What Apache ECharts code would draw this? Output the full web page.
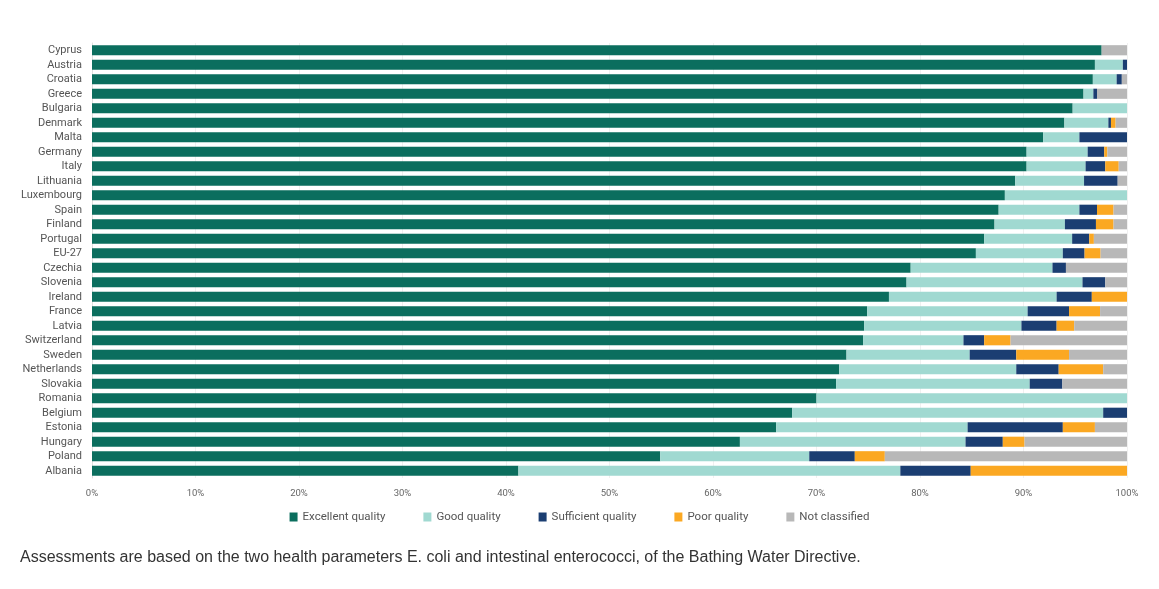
<!DOCTYPE html>
<html>
<head>
<meta charset="utf-8">
<script src="https://cdn.jsdelivr.net/npm/echarts@6/dist/echarts.min.js"></script>
<style>
html,body{margin:0;padding:0;background:#fff;}
#chart{width:1159px;height:589px;}
</style>
</head>
<body>
<div id="chart"></div>
<script>
const categories = ["Cyprus","Austria","Croatia","Greece","Bulgaria","Denmark","Malta","Germany","Italy","Lithuania","Luxembourg","Spain","Finland","Portugal","EU-27","Czechia","Slovenia","Ireland","France","Latvia","Switzerland","Sweden","Netherlands","Slovakia","Romania","Belgium","Estonia","Hungary","Poland","Albania"];
const excellent = [97.55,96.9,96.7,95.8,94.75,93.95,91.9,90.3,90.3,89.2,88.2,87.6,87.2,86.2,85.4,79.1,78.7,77.0,74.9,74.6,74.5,72.9,72.2,71.9,70.0,67.65,66.1,62.6,54.9,41.2];
const good = [0,2.7,2.3,0.95,5.25,4.25,3.5,5.9,5.7,6.65,11.8,7.8,6.8,8.5,8.4,13.7,17.0,16.2,15.5,15.2,9.7,11.9,17.1,18.7,30.0,30.05,18.5,21.8,14.4,36.9];
const sufficient = [0,0.4,0.5,0.35,0,0.25,4.6,1.6,1.9,3.25,0,1.7,3.0,1.65,2.1,1.3,2.2,3.4,4.0,3.4,2.0,4.5,4.1,3.15,0,2.3,9.2,3.6,4.4,6.8];
const poor = [0,0,0,0,0,0.45,0,0.3,1.3,0,0,1.6,1.7,0.45,1.55,0,0,3.4,3.0,1.7,2.55,5.1,4.3,0,0,0,3.1,2.1,2.9,15.1];
const notClassified = [2.45,0,0.5,2.9,0,1.1,0,1.9,0.8,0.9,0,1.3,1.3,3.2,2.55,5.9,2.1,0,2.6,5.1,11.25,5.6,2.3,6.25,0,0,3.1,9.9,23.4,0];
const seriesNames = ["Excellent quality","Good quality","Sufficient quality","Poor quality","Not classified"];
const colors = ["#0b6e5e","#a0d9d1","#1b3e72","#fba822","#b8b8b8"];
const caption = "Assessments are based on the two health parameters E. coli and intestinal enterococci, of the Bathing Water Directive.";

const chart = echarts.init(document.getElementById('chart'));
const dataSets = [excellent, good, sufficient, poor, notClassified];
chart.setOption({
  animation: false,
  color: colors,
  title: {
    text: caption,
    left: 15,
    top: 545,
    textStyle: {fontFamily: 'Liberation Sans, Arial, sans-serif', fontSize: 16, fontWeight: 'normal', color: '#333'}
  },
  legend: {
    data: seriesNames,
    left: 'center',
    top: 506,
    icon: 'rect',
    itemWidth: 8,
    itemHeight: 9,
    itemGap: 38,
    textStyle: {fontFamily: 'Roboto, sans-serif', fontSize: 11.5, color: '#555'}
  },
  grid: {left: 92, right: 32, top: 43, bottom: 111, containLabel: false},
  xAxis: {
    type: 'value',
    min: 0, max: 100, interval: 10,
    axisLabel: {formatter: '{value}%', fontFamily: 'Roboto, sans-serif', fontSize: 9.5, color: '#666', margin: 11},
    splitLine: {show: true, lineStyle: {color: '#f0f0f0', width: 1}},
    axisLine: {show: false},
    axisTick: {show: false}
  },
  yAxis: {
    type: 'category',
    inverse: true,
    data: categories,
    axisLabel: {fontFamily: 'Roboto, sans-serif', fontSize: 11, color: '#555', margin: 10},
    axisLine: {show: true, lineStyle: {color: '#e0e0e0'}},
    axisTick: {show: false}
  },
  series: seriesNames.map((n, i) => ({
    name: n,
    type: 'bar',
    stack: 'total',
    barWidth: '70%',
    data: dataSets[i]
  }))
});
</script>
</body>
</html>
